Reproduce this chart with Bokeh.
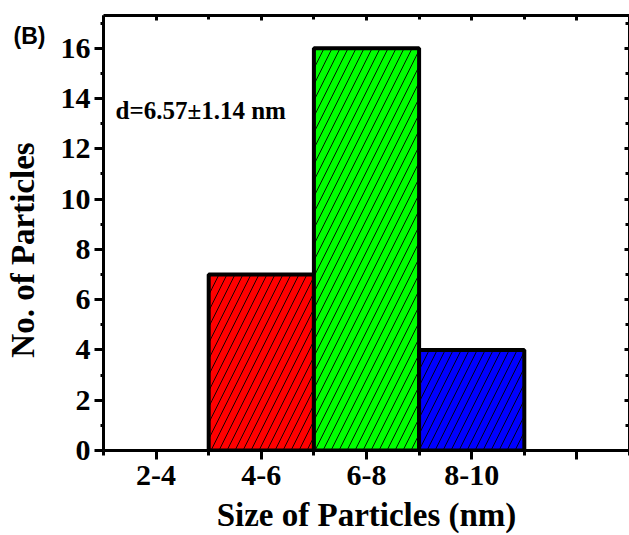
import math
from bokeh.plotting import figure
from bokeh.layouts import row
from bokeh.models import FixedTicker, LinearAxis, Label, Range1d
from bokeh.embed import file_html
from bokeh.resources import INLINE

# Data
bin_labels = ["2-4", "4-6", "6-8", "8-10"]
bin_lo = [2, 4, 6, 8]
bin_hi = [4, 6, 8, 10]
counts = [0, 7, 16, 4]
bar_colors = ["#FFFFFF", "#FF0000", "#00FF00", "#0000FF"]
bin_mid = [3, 5, 7, 9, 11]
mid_labels = ["2-4", "4-6", "6-8", "8-10", ""]
y_major = [0, 2, 4, 6, 8, 10, 12, 14, 16]
y_minor = [1, 3, 5, 7, 9, 11, 13, 15, 17]
x_minor = [2, 4, 6, 8, 10, 12]

FONT = "Liberation Serif"
SIDE_W = 55
H = 535
TOP, BOTTOM = 15, 84

# side strip holding the panel tag and the y-axis title (pixel-like coordinates)
side = figure(width=SIDE_W, height=H, output_backend="svg", toolbar_location=None,
              x_range=Range1d(0, SIDE_W), y_range=Range1d(BOTTOM, H - TOP),
              min_border_left=0, min_border_right=0, min_border_top=TOP,
              min_border_bottom=BOTTOM)
side.axis.visible = False
side.grid.visible = False
side.outline_line_color = None
side.border_fill_color = "white"
side.add_layout(Label(x=13, y=H - 36, text="(B)", text_font="Liberation Sans",
                      text_font_style="bold", text_font_size="23px", text_color="black",
                      text_baseline="middle"))
side.add_layout(Label(x=22, y=H - 250, angle=math.pi / 2, text="No. of Particles",
                      text_font=FONT, text_font_style="bold", text_font_size="33px",
                      text_color="black", text_align="center", text_baseline="middle"))

p = figure(width=629 - SIDE_W, height=H, output_backend="svg", toolbar_location=None,
           x_range=Range1d(2, 12), y_range=Range1d(0, 17.3),
           min_border_left=103 - SIDE_W, min_border_right=0, min_border_top=TOP,
           min_border_bottom=BOTTOM)
p.xaxis.visible = False
p.yaxis.visible = False
p.grid.visible = False
p.outline_line_color = None
p.background_fill_color = "white"
p.border_fill_color = "white"

nz = [i for i, c in enumerate(counts) if c > 0]
p.quad(left=[bin_lo[i] for i in nz], right=[bin_hi[i] for i in nz], bottom=0,
       top=[counts[i] for i in nz], fill_color=[bar_colors[i] for i in nz],
       line_color="black", line_width=4,
       hatch_pattern="/", hatch_color="black", hatch_weight=0.9, hatch_scale=16)

def style(ax):
    ax.axis_line_width = 3
    ax.axis_line_color = "black"
    ax.major_tick_line_width = 3
    ax.minor_tick_line_width = 3
    ax.major_label_text_font = FONT
    ax.major_label_text_font_style = "bold"
    ax.major_label_text_color = "black"
    ax.axis_label_text_font = FONT
    ax.axis_label_text_font_style = "bold"
    ax.axis_label_text_color = "black"

xb = LinearAxis(ticker=FixedTicker(ticks=bin_mid, minor_ticks=x_minor),
                major_label_overrides={m: l for m, l in zip(bin_mid, mid_labels)},
                axis_label="Size of Particles (nm)")
style(xb)
xb.major_tick_out = 9
xb.major_tick_in = 0
xb.minor_tick_out = 5
xb.minor_tick_in = 0
xb.major_label_text_font_size = "30px"
xb.axis_label_text_font_size = "33px"
xb.major_label_standoff = 6
xb.axis_label_standoff = 9
p.add_layout(xb, "below")

yl = LinearAxis(ticker=FixedTicker(ticks=y_major, minor_ticks=y_minor))
style(yl)
yl.major_tick_out = 9
yl.major_tick_in = 0
yl.minor_tick_out = 3
yl.minor_tick_in = 0
yl.major_label_text_font_size = "30px"
yl.major_label_standoff = 4
p.add_layout(yl, "left")

xt = LinearAxis(ticker=FixedTicker(ticks=bin_mid, minor_ticks=x_minor),
                major_label_overrides={m: "" for m in bin_mid})
style(xt)
xt.major_tick_in = 5
xt.major_tick_out = 0
xt.minor_tick_in = 4
xt.minor_tick_out = 0
xt.major_label_standoff = 0
p.add_layout(xt, "above")

yr = LinearAxis(ticker=FixedTicker(ticks=y_major, minor_ticks=y_minor),
                major_label_overrides={m: "" for m in y_major})
style(yr)
yr.major_tick_in = 5
yr.major_tick_out = 0
yr.minor_tick_in = 4
yr.minor_tick_out = 0
yr.major_label_standoff = 0
p.add_layout(yr, "right")

p.add_layout(Label(x=2.23, y=13.0, text="d=6.57\u00b11.14 nm", text_font=FONT,
                   text_font_style="bold", text_font_size="25px", text_color="black"))

layout = row(side, p)
open("out.html", "w").write(file_html(layout, INLINE))
